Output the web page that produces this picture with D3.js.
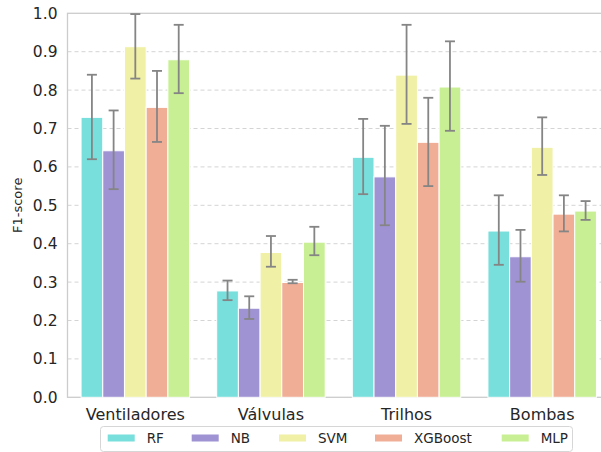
<!DOCTYPE html>
<meta charset="utf-8">
<head>
    <script src="https://cdn.jsdelivr.net/npm/d3@7"></script>
    <style>
        body { margin: 0; background: #fff; }
        text { font-family: "DejaVu Sans", sans-serif; fill: #262626; }
        .grid line { stroke: #d4d4d4; stroke-dasharray: 4,3; stroke-width: 1; }
    </style>
</head>
<body>
<script>
    // data
    var groups = ["Ventiladores", "Válvulas", "Trilhos", "Bombas"];
    var models = ["RF", "NB", "SVM", "XGBoost", "MLP"];
    var colors = ["#78dfdc", "#a093d4", "#f0f0a6", "#f0ae97", "#c9ef94"];
    var yTicks = [0, 0.1, 0.2, 0.3, 0.4, 0.5, 0.6, 0.7, 0.8, 0.9, 1.0];

    // rows = model, cols = group
    var means = [
        [0.729, 0.277, 0.625, 0.433],
        [0.642, 0.232, 0.574, 0.366],
        [0.913, 0.377, 0.839, 0.651],
        [0.755, 0.299, 0.664, 0.477],
        [0.879, 0.404, 0.808, 0.485]
    ];
    var lows = [
        [0.620, 0.253, 0.529, 0.345],
        [0.542, 0.204, 0.448, 0.301],
        [0.830, 0.340, 0.712, 0.579],
        [0.665, 0.297, 0.550, 0.432],
        [0.792, 0.370, 0.694, 0.462]
    ];
    var highs = [
        [0.840, 0.304, 0.725, 0.526],
        [0.747, 0.263, 0.707, 0.436],
        [0.998, 0.420, 0.970, 0.729],
        [0.850, 0.306, 0.780, 0.526],
        [0.970, 0.444, 0.927, 0.511]
    ];

    var w = 601, h = 452;
    var pLeft = 67.5, pRight = 610, pTop = 13.3, pBottom = 397.3;

    var svg = d3.select("body").append("svg")
        .attr("width", w).attr("height", h);

    var x = d3.scaleBand().domain(groups).range([pLeft, pRight])
        .paddingInner(0.2).paddingOuter(0.1);
    var xm = d3.scaleBand().domain(models).range([0, x.bandwidth()]);
    var y = d3.scaleLinear().domain([0, 1]).range([pBottom, pTop]);

    // dashed grid
    svg.append("g").attr("class", "grid")
        .selectAll("line").data(yTicks.slice(1, -1)).enter().append("line")
        .attr("x1", pLeft).attr("x2", pRight)
        .attr("y1", d => y(d)).attr("y2", d => y(d));

    // spines
    svg.append("rect")
        .attr("x", pLeft).attr("y", pTop)
        .attr("width", pRight - pLeft).attr("height", pBottom - pTop)
        .attr("fill", "none").attr("stroke", "#cccccc").attr("stroke-width", 1.3);

    var rows = [];
    models.forEach(function(m, i) {
        groups.forEach(function(g, j) {
            rows.push({model: m, group: g, c: colors[i], v: means[i][j], lo: lows[i][j], hi: highs[i][j]});
        });
    });

    svg.append("g").selectAll("rect").data(rows).enter().append("rect")
        .attr("x", d => x(d.group) + xm(d.model))
        .attr("y", d => y(d.v))
        .attr("width", xm.bandwidth())
        .attr("height", d => pBottom - y(d.v))
        .attr("fill", d => d.c)
        .attr("stroke", "#fff").attr("stroke-width", 1);

    var eb = svg.append("g").attr("stroke", "#858585").attr("stroke-width", 1.8);
    var cx = d => x(d.group) + xm(d.model) + xm.bandwidth() / 2;
    eb.selectAll(".v").data(rows).enter().append("line")
        .attr("x1", cx).attr("x2", cx)
        .attr("y1", d => y(d.lo)).attr("y2", d => y(d.hi));
    eb.selectAll(".t").data(rows).enter().append("line")
        .attr("x1", d => cx(d) - 5).attr("x2", d => cx(d) + 5)
        .attr("y1", d => y(d.hi)).attr("y2", d => y(d.hi));
    eb.selectAll(".b").data(rows).enter().append("line")
        .attr("x1", d => cx(d) - 5).attr("x2", d => cx(d) + 5)
        .attr("y1", d => y(d.lo)).attr("y2", d => y(d.lo));

    // y axis labels
    svg.append("g").selectAll("text").data(yTicks).enter().append("text")
        .attr("x", pLeft - 10).attr("y", d => y(d)).attr("dy", "0.36em")
        .attr("text-anchor", "end").style("font-size", "15.5px")
        .text(d => d3.format(".1f")(d));

    svg.append("text")
        .attr("transform", "translate(22," + ((pTop + pBottom) / 2) + ") rotate(-90)")
        .attr("text-anchor", "middle").style("font-size", "13px")
        .text("F1-score");

    // x labels
    svg.append("g").selectAll("text").data(groups).enter().append("text")
        .attr("x", d => x(d) + x.bandwidth() / 2).attr("y", 420)
        .attr("text-anchor", "middle").style("font-size", "16px")
        .text(d => d);

    // legend
    var legX = [107.7, 191.7, 279, 375, 501.7];
    var leg = svg.append("g");
    leg.append("rect").attr("x", 100.5).attr("y", 426.5).attr("width", 472).attr("height", 25)
        .attr("rx", 3).attr("fill", "#fff").attr("stroke", "#d6d6d6").attr("stroke-width", 1);
    models.forEach(function(m, i) {
        leg.append("rect").attr("x", legX[i]).attr("y", 434.5).attr("width", 27).attr("height", 7)
            .attr("fill", colors[i]);
        leg.append("text").attr("x", legX[i] + 39).attr("y", 438).attr("dy", "0.36em")
            .style("font-size", "13.5px").text(m);
    });
</script>
</body>
</html>
